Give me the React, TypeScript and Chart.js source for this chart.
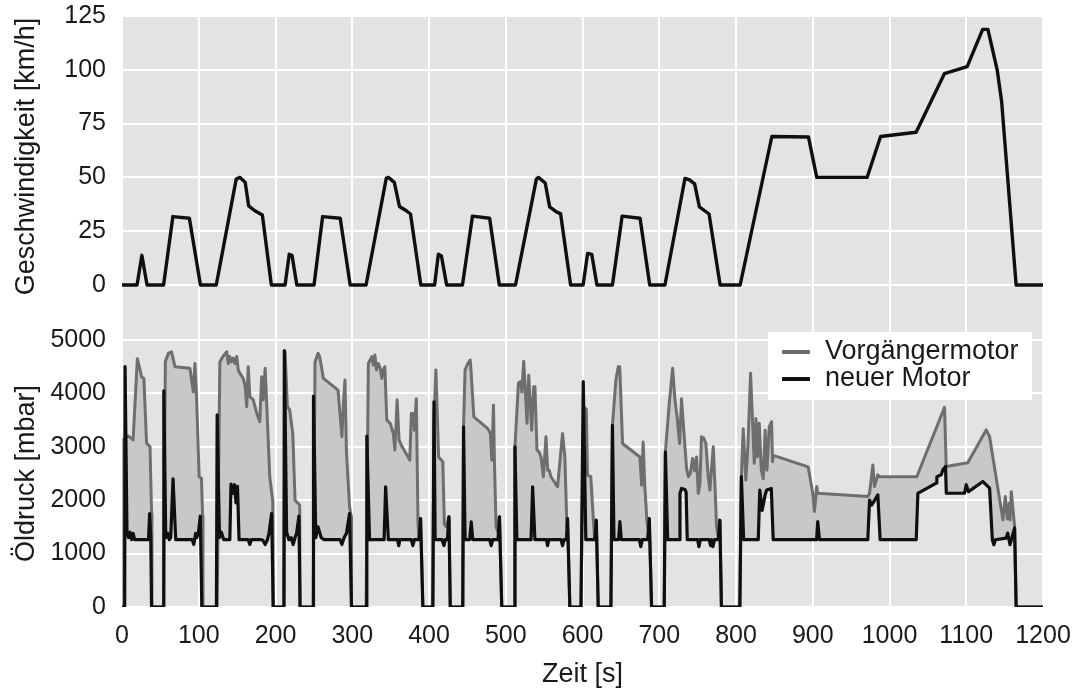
import React, { useEffect, useRef } from 'react';
import { Chart, registerables } from 'chart.js';

Chart.register(...registerables);

// ---------- data ----------
const xTicks = [0, 100, 200, 300, 400, 500, 600, 700, 800, 900, 1000, 1100, 1200];
const speedTicks = [0, 25, 50, 75, 100, 125];
const pressureTicks = [0, 1000, 2000, 3000, 4000, 5000];

const speedTime = [
  0, 19.6, 25.9, 32.6, 54.2, 66.3, 87.8, 102.2, 122.8, 148.8, 153.8, 160.5, 165, 173.1, 182.9, 194.6,
  212.5, 217.9, 221.5, 227.8, 250.2, 261.4, 284.3, 297.3, 318, 344.4, 347.1, 354.8, 361.5, 370.5, 375.9, 389.3,
  407.3, 412.2, 416.2, 423, 443.6, 456.6, 479, 491.6, 512.7, 539.9, 542.6, 551.4, 557.2, 566, 571.4, 584.5,
  600.8, 606.7, 612.1, 618.8, 639, 651.6, 675, 687.6, 707.4, 733.5, 738.9, 746.1, 752.3, 764.9, 779.3,
  805.4, 846.7, 894.4, 905.2, 970.8, 988.4, 1034.7, 1071.5, 1101.2, 1121.4, 1128.2, 1140.3, 1146.1, 1165, 1200,
];
const speedValue = [
  0, 0, 13.8, 0, 0, 31.8, 31, 0, 0, 49.2, 50, 47.7, 36.8, 34.5, 32.5, 0,
  0, 14.3, 13.8, 0, 0, 31.8, 31, 0, 0, 49.7, 50, 47.7, 36.5, 34.5, 33, 0,
  0, 14.3, 13.5, 0, 0, 32, 31, 0, 0, 49.2, 50, 47.4, 36.3, 34, 33.2, 0,
  0, 14.7, 14.2, 0, 0, 32, 31, 0, 0, 49.5, 49, 47, 36.3, 33, 0,
  0, 69, 68.8, 50, 50, 69, 71, 98.2, 101.5, 118.8, 118.8, 100, 85.3, 0, 0,
];

const neuTime = [
  0, 3.5, 4, 6.5, 8.5, 10.5, 12.5, 14.5, 16.5, 34.5, 36, 37.5, 38.5,
  53.5, 54.5, 57, 59.5, 61.5, 63.5, 66.5, 70, 91.5, 93.5, 96, 97.5, 99.5, 102, 104,
  123, 124, 127, 129.5, 132.5, 140.5, 142, 144.5, 146.5, 148.5, 150.5, 152.5, 164.5, 166.5, 168.5, 181.5, 183.5, 186.5, 189.5, 191.5, 195, 197,
  211, 211.5, 214.5, 217.5, 220.5, 223, 225.5, 227.5, 230.5, 232,
  249, 249.5, 252.5, 255.5, 259.5, 263.5, 284, 286.5, 289.5, 292.5, 296.5, 299,
  318, 319, 322.5, 341.5, 343.5, 347, 359, 360.6, 362, 377, 379, 381, 387, 389, 392,
  405, 406.5, 408, 417, 419.5, 421, 424, 426, 427.7,
  444, 445, 447, 453, 455, 457, 479, 481, 483, 490, 491.8, 494.8,
  511, 512, 514.5, 533, 535, 538, 553, 554.5, 556, 572, 574, 576, 579, 580.5, 583.5,
  598, 601, 604.3, 616, 618, 620.5,
  637, 639, 641, 647, 648.7, 650.5, 674, 676, 678, 685, 687, 690,
  706.5, 708, 711, 726, 727, 729, 733.5, 735, 736.5, 750, 751.7, 753.5, 765, 767, 768.5, 770, 772, 777, 779, 781,
  805, 807, 810, 829, 831, 834, 838, 840, 846, 848.5, 905, 906.5, 908.7, 971.7, 974, 977, 984.8, 987.8,
  1034.8, 1037, 1041, 1060.9, 1061.7, 1067.4, 1069.6, 1073, 1074, 1097.8, 1100, 1103, 1121.7, 1130.4, 1134, 1136, 1138,
  1152, 1154, 1157, 1163, 1165, 1200,
];
const neuValue = [
  0, 0, 4500, 1400, 1300, 1400, 1260, 1380, 1260, 1260, 1750, 1300, 0,
  0, 4050, 1300, 1380, 1260, 1300, 2400, 1260, 1260, 1170, 1380, 1300, 1380, 1700, 0,
  0, 3600, 1300, 1400, 1260, 1260, 2300, 2130, 2290, 1950, 2260, 1260, 1260, 1170, 1260, 1260, 1250, 1170, 1260, 1380, 1750, 0,
  0, 4800, 1400, 1260, 1300, 1170, 1300, 1380, 1700, 0,
  0, 3950, 1300, 1500, 1300, 1260, 1260, 1170, 1300, 1380, 1750, 0,
  0, 3200, 1260, 1260, 2250, 1260, 1260, 1150, 1260, 1260, 1150, 1260, 1260, 1656, 0,
  0, 3844, 1260, 1260, 1150, 1260, 1260, 1690, 0,
  0, 3375, 1260, 1260, 1594, 1260, 1260, 1150, 1260, 1260, 1690, 0,
  0, 3000, 1260, 1260, 2250, 1260, 1260, 1150, 1260, 1260, 1150, 1260, 1260, 1656, 0,
  0, 4220, 1260, 1260, 1625, 0,
  0, 3400, 1260, 1260, 1600, 1260, 1260, 1130, 1260, 1260, 1656, 0,
  0, 2900, 1260, 1260, 2125, 2220, 2200, 2150, 1260, 1260, 1130, 1260, 1260, 1150, 1260, 1130, 1260, 1260, 1625, 0,
  0, 2440, 1260, 1260, 2190, 1810, 2100, 2190, 2220, 1260, 1260, 1600, 1260, 1260, 2000, 1910, 2100, 1260,
  1260, 2130, 2160, 2320, 2440, 2475, 2570, 2630, 2130, 2130, 2290, 2160, 2350, 2225, 1260, 1166, 1260,
  1290, 1384, 1166, 1480, 0, 0,
];

const altTime = [
  1.5, 2.5, 8.5, 14.5, 20, 22.5, 25.5, 28.5, 32, 36.5, 38.5, 39,
  54, 56.5, 60.5, 64.5, 69, 88.5, 93, 95, 97, 100.5, 103.5, 105, 105.5,
  124, 127.5, 131.5, 136.5, 138.5, 140.5, 142.5, 145, 147, 149.5, 151.5, 153.5, 158, 160.5, 162.5, 164.5, 166.5, 171, 175.5, 179.5, 182, 184, 186.5, 188.5, 192.5, 196.5, 197,
  211, 212.5, 215.5, 218.5, 222.5, 225.5, 231.5, 232,
  249, 251.5, 255.5, 257.5, 262.5, 281.5, 286.5, 288.5, 290.5, 292.5, 296.5, 298.5, 299,
  318, 321, 325.5, 327.5, 329.5, 331.5, 334, 336.5, 338.5, 340.5, 342.5, 345, 349.5, 353.5, 355.5, 358.5, 361, 365, 372.7, 375, 377, 379, 381, 383.5, 385.7, 387, 389, 392,
  405, 406.5, 409, 412.5, 418, 420, 422.5, 426, 427.7,
  444, 445, 447, 450.6, 453.7, 455, 458.4, 476.6, 480, 481.8, 484, 485.3, 487.4, 490, 491.8, 494.8,
  511, 512, 516.5, 519, 521, 523.4, 525.5, 527.7, 529.9, 532, 533.8, 536.4, 538, 540.7, 543.5, 545.9, 549, 552.4, 554.6, 556.7, 558.9, 567.5, 574, 577, 579.7, 580.5, 583.5,
  598, 601.5, 605, 606.5, 610.8, 615, 616, 618, 620.5,
  637, 639, 643.5, 646.6, 648.5, 652.2, 655, 674.8, 677, 679, 681, 684, 685.7, 687, 690,
  706.5, 708, 713, 717.4, 720.5, 723.5, 726.5, 729, 731.5, 733.5, 735.6, 738, 740.5, 743.4, 746, 748.6, 750.8, 753, 755, 758, 760.8, 763.8, 766, 770.4, 772.5, 774.7, 777, 779, 781,
  805, 807, 809.4, 812.8, 815.5, 819, 821.5, 823.8, 826, 828, 830.3, 833, 835.5, 838, 840.3, 843.3, 846.4, 847.5, 848.5, 894, 900, 902.2, 905.2, 906.5,
  971.7, 974, 978.3, 980.4, 984.8, 987, 1035.6, 1071.7, 1073.9, 1102, 1126, 1130.4, 1147.8, 1150.9, 1153.5, 1156, 1157, 1158.7, 1163, 1165, 1200,
];
const altValue = [
  0, 3150, 3200, 3130, 4650, 4500, 4310, 4280, 3070, 3000, 1750, 0,
  0, 4600, 4750, 4780, 4500, 4470, 4030, 4560, 4000, 2440, 2410, 1700, 0,
  0, 4590, 4690, 4780, 4560, 4690, 4590, 4660, 4560, 4690, 4440, 4380, 4280, 4130, 3750, 4500, 3940, 3880, 3630, 3470, 4310, 3880, 4470, 3815, 2440, 1976, 0,
  0, 4780, 3750, 3690, 3250, 2000, 1910, 0,
  0, 4590, 4750, 4690, 4280, 4060, 3190, 3815, 4250, 2880, 1880, 1700, 0,
  0, 4560, 4690, 4530, 4720, 4440, 4560, 4470, 4280, 4440, 4500, 3500, 3440, 3250, 2940, 3880, 3125, 3000, 2810, 2750, 3625, 3625, 3310, 3900, 1560, 1300, 1656, 0,
  0, 3500, 4440, 2810, 2720, 1560, 1500, 1690, 0,
  0, 3375, 4440, 4560, 4625, 4375, 3560, 3340, 3250, 2750, 3780, 2690, 1500, 1400, 1690, 0,
  0, 3000, 4190, 4220, 4030, 4600, 4060, 3440, 4340, 3810, 3310, 4125, 4125, 2940, 2900, 2810, 2440, 3190, 2560, 2560, 2440, 2250, 3250, 2810, 1500, 1656, 0,
  0, 3750, 3700, 2470, 2440, 1440, 1260, 1625, 0,
  0, 3400, 4250, 4500, 4500, 3060, 3030, 2810, 2280, 3090, 2310, 1600, 1440, 1656, 0,
  0, 2900, 3810, 4470, 3875, 3530, 3060, 3900, 3400, 3000, 2590, 2440, 2500, 2780, 2550, 2810, 2125, 2310, 3190, 3160, 3060, 2440, 2190, 3000, 2300, 1500, 1300, 1625, 0,
  0, 2440, 3340, 2375, 3000, 4375, 3500, 2690, 3530, 2810, 3440, 2560, 2400, 3310, 2560, 3375, 3470, 2720, 2840, 2625, 2130, 1790, 2256, 2130,
  2070, 2130, 2660, 2256, 2475, 2440, 2440, 3740, 2630, 2700, 3316, 3190, 1630, 2070, 1650, 1945, 1630, 2160, 1510, 0, 0,
];

// ---------- styles ----------
const FONT = "'Liberation Sans', Arial, sans-serif";
const TEXT = '#1a1a1a';
const PANEL_BG = '#e3e3e3';
const FILL = '#c8c8c8';
const GRAY_LINE = '#6e6e6e';
const BLACK_LINE = '#0f0f0f';

const toXY = (xs: number[], ys: number[]) => xs.map((x, i) => ({ x, y: ys[i] }));

const bgPlugin = {
  id: 'panelBg',
  beforeDraw(chart: any) {
    const { ctx, chartArea } = chart;
    ctx.save();
    ctx.fillStyle = PANEL_BG;
    ctx.fillRect(chartArea.left, chartArea.top, chartArea.right - chartArea.left, chartArea.bottom - chartArea.top);
    ctx.restore();
  },
};

const decorPlugin = {
  id: 'decor',
  afterDraw(chart: any) {
    const { ctx } = chart;
    ctx.save();
    ctx.fillStyle = TEXT;
    ctx.font = `27px ${FONT}`;
    ctx.textAlign = 'center';
    ctx.textBaseline = 'middle';
    const ys = chart.scales.ySpeed;
    const yo = chart.scales.yOil;
    const t1 = (ys.getPixelForValue(0) + ys.getPixelForValue(125)) / 2 + 6;
    const t2 = (yo.getPixelForValue(0) + yo.getPixelForValue(5000)) / 2;
    ctx.save();
    ctx.translate(27, t1);
    ctx.rotate(-Math.PI / 2);
    ctx.fillText('Geschwindigkeit [km/h]', 0, 0);
    ctx.restore();
    ctx.save();
    ctx.translate(27, t2);
    ctx.rotate(-Math.PI / 2);
    ctx.fillText('Öldruck [mbar]', 0, 0);
    ctx.restore();

    // legend
    const lx = 768, ly = 332, lw = 264, lh = 68;
    ctx.fillStyle = '#ffffff';
    ctx.fillRect(lx, ly, lw, lh);
    const entries = [
      { label: 'Vorgängermotor', color: GRAY_LINE, y: ly + 20 },
      { label: 'neuer Motor', color: BLACK_LINE, y: ly + 47 },
    ];
    ctx.textAlign = 'left';
    for (const e of entries) {
      ctx.strokeStyle = e.color;
      ctx.lineWidth = 4;
      ctx.beginPath();
      ctx.moveTo(lx + 14, e.y);
      ctx.lineTo(lx + 42, e.y);
      ctx.stroke();
      ctx.fillStyle = TEXT;
      ctx.fillText(e.label, lx + 57, e.y);
    }
    ctx.restore();
  },
};

export default function App() {
  const ref = useRef<HTMLCanvasElement | null>(null);

  useEffect(() => {
    if (!ref.current) return;
    const tickFont = { family: FONT, size: 25 };
    const grid = { color: '#ffffff', lineWidth: 2, drawTicks: false };
    const fitY = (s: any) => { s.width = 122; s.paddingTop = 0; s.paddingBottom = 0; };
    const chart = new Chart(ref.current, {
      type: 'line',
      data: {
        datasets: [
          {
            label: 'Geschwindigkeit',
            data: toXY(speedTime, speedValue),
            yAxisID: 'ySpeed',
            borderColor: BLACK_LINE,
            borderWidth: 3.4,
            pointRadius: 0,
            tension: 0,
            fill: false,
          },
          {
            label: 'neuer Motor',
            data: toXY(neuTime, neuValue),
            yAxisID: 'yOil',
            borderColor: BLACK_LINE,
            borderWidth: 3.2,
            pointRadius: 0,
            tension: 0,
            fill: false,
          },
          {
            label: 'Vorgängermotor',
            data: toXY(altTime, altValue),
            yAxisID: 'yOil',
            borderColor: GRAY_LINE,
            backgroundColor: FILL,
            borderWidth: 3,
            pointRadius: 0,
            tension: 0,
            fill: 1,
          },
        ],
      } as any,
      options: {
        animation: false,
        responsive: false,
        maintainAspectRatio: false,
        layout: { padding: { top: 16, right: 38, left: 0, bottom: 0 } },
        plugins: { legend: { display: false }, tooltip: { enabled: false } },
        elements: { line: { borderJoinStyle: 'round', borderCapStyle: 'butt' } },
        scales: {
          x: {
            type: 'linear',
            position: 'bottom',
            min: 0,
            max: 1200,
            afterBuildTicks: (s: any) => { s.ticks = xTicks.map((v) => ({ value: v })); },
            afterFit: (s: any) => { s.height = 83; s.paddingLeft = 0; s.paddingRight = 0; },
            ticks: { font: tickFont, color: TEXT, padding: 14, maxRotation: 0, autoSkip: false, callback: (v: any) => String(v) },
            grid,
            border: { display: false },
            title: { display: true, text: 'Zeit [s]', color: TEXT, font: { family: FONT, size: 27 }, padding: { top: 0, bottom: -1 } },
          },
          yOil: {
            type: 'linear',
            position: 'left',
            stack: 'panels',
            stackWeight: 289.7,
            min: 0,
            max: 5425,
            afterBuildTicks: (s: any) => { s.ticks = pressureTicks.map((v) => ({ value: v })); },
            afterFit: fitY,
            ticks: { font: tickFont, color: TEXT, padding: 16, callback: (v: any) => String(v) },
            grid,
            border: { display: false },
          },
          ySpeed: {
            type: 'linear',
            position: 'left',
            stack: 'panels',
            stackWeight: 301.3,
            min: -15,
            max: 125,
            afterBuildTicks: (s: any) => { s.ticks = speedTicks.map((v) => ({ value: v })); },
            afterFit: fitY,
            ticks: { font: tickFont, color: TEXT, padding: 16, callback: (v: any) => String(v) },
            grid,
            border: { display: false },
          },
        },
      } as any,
      plugins: [bgPlugin, decorPlugin],
    });
    return () => chart.destroy();
  }, []);

  return (
    <div style={{ position: 'absolute', left: 0, top: 0, width: 1081, height: 690, background: '#ffffff' }}>
      <canvas ref={ref} width={1081} height={690} style={{ display: 'block', width: 1081, height: 690 }} />
    </div>
  );
}
